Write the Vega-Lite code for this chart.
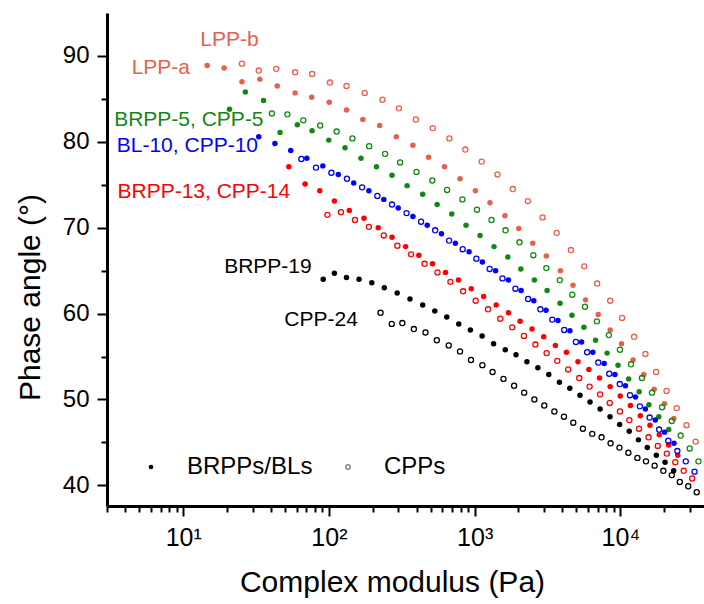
{
"$schema": "https://vega.github.io/schema/vega-lite/v6.json",
"width": 597, "height": 493,
"autosize": {"type": "none"},
"padding": {"left": 107, "top": 13, "right": 0, "bottom": 98},
"background": "white",
"config": {
 "view": {"stroke": null},
 "font": "Liberation Sans",
 "axis": {"domainColor": "black", "domainWidth": 3, "tickColor": "black", "tickWidth": 2, "labelFont": "Liberation Sans", "labelFontSize": 24, "labelColor": "black", "titleFont": "Liberation Sans", "titleFontWeight": "normal", "titleColor": "black", "grid": false, "labelOverlap": false, "labelBound": false, "labelFlush": false}
},
"datasets": {
"pts": [
{"g":"LPP","t":"BRPPs/BLs","x":14.6,"y":88.9},{"g":"LPP","t":"BRPPs/BLs","x":19.1,"y":88.6},{"g":"LPP","t":"BRPPs/BLs","x":25.3,"y":87.0},{"g":"LPP","t":"BRPPs/BLs","x":33.6,"y":87.3},{"g":"LPP","t":"BRPPs/BLs","x":44.2,"y":86.5},{"g":"LPP","t":"BRPPs/BLs","x":58.6,"y":85.7},{"g":"LPP","t":"BRPPs/BLs","x":76.2,"y":85.2},{"g":"LPP","t":"BRPPs/BLs","x":100.5,"y":84.6},{"g":"LPP","t":"BRPPs/BLs","x":132,"y":83.7},{"g":"LPP","t":"BRPPs/BLs","x":171,"y":82.6},{"g":"LPP","t":"BRPPs/BLs","x":223,"y":81.9},{"g":"LPP","t":"BRPPs/BLs","x":290,"y":80.6},{"g":"LPP","t":"BRPPs/BLs","x":377,"y":79.6},{"g":"LPP","t":"BRPPs/BLs","x":483,"y":78.2},{"g":"LPP","t":"BRPPs/BLs","x":621,"y":77.1},{"g":"LPP","t":"BRPPs/BLs","x":794,"y":75.7},{"g":"LPP","t":"BRPPs/BLs","x":1012,"y":74.3},{"g":"LPP","t":"BRPPs/BLs","x":1274,"y":72.9},{"g":"LPP","t":"BRPPs/BLs","x":1614,"y":71.4},{"g":"LPP","t":"BRPPs/BLs","x":2009,"y":69.9},{"g":"LPP","t":"BRPPs/BLs","x":2506,"y":68.2},{"g":"LPP","t":"BRPPs/BLs","x":3105,"y":66.7},{"g":"LPP","t":"BRPPs/BLs","x":3873,"y":65.0},{"g":"LPP","t":"BRPPs/BLs","x":4732,"y":63.3},{"g":"LPP","t":"BRPPs/BLs","x":5768,"y":61.6},{"g":"LPP","t":"BRPPs/BLs","x":7047,"y":59.9},{"g":"LPP","t":"BRPPs/BLs","x":8511,"y":58.1},{"g":"LPP","t":"BRPPs/BLs","x":10186,"y":56.5},{"g":"LPP","t":"BRPPs/BLs","x":12218,"y":54.6},{"g":"LPP","t":"BRPPs/BLs","x":14488,"y":52.9},{"g":"LPP","t":"BRPPs/BLs","x":17061,"y":51.2},{"g":"LPP","t":"BRPPs/BLs","x":20045,"y":49.5},{"g":"LPP","t":"BRPPs/BLs","x":23281,"y":47.8},
{"g":"LPP","t":"CPPs","x":25.3,"y":89.1},{"g":"LPP","t":"CPPs","x":33.0,"y":88.3},{"g":"LPP","t":"CPPs","x":43.5,"y":88.5},{"g":"LPP","t":"CPPs","x":58.6,"y":88.1},{"g":"LPP","t":"CPPs","x":76.7,"y":87.9},{"g":"LPP","t":"CPPs","x":101.6,"y":86.9},{"g":"LPP","t":"CPPs","x":132,"y":86.5},{"g":"LPP","t":"CPPs","x":176,"y":85.7},{"g":"LPP","t":"CPPs","x":233,"y":84.9},{"g":"LPP","t":"CPPs","x":302,"y":83.9},{"g":"LPP","t":"CPPs","x":395,"y":82.6},{"g":"LPP","t":"CPPs","x":516,"y":81.6},{"g":"LPP","t":"CPPs","x":671,"y":80.4},{"g":"LPP","t":"CPPs","x":863,"y":79.1},{"g":"LPP","t":"CPPs","x":1117,"y":77.7},{"g":"LPP","t":"CPPs","x":1435,"y":76.2},{"g":"LPP","t":"CPPs","x":1828,"y":74.5},{"g":"LPP","t":"CPPs","x":2317,"y":73.1},{"g":"LPP","t":"CPPs","x":2924,"y":71.2},{"g":"LPP","t":"CPPs","x":3656,"y":69.4},{"g":"LPP","t":"CPPs","x":4581,"y":67.4},{"g":"LPP","t":"CPPs","x":5649,"y":65.5},{"g":"LPP","t":"CPPs","x":6934,"y":63.5},{"g":"LPP","t":"CPPs","x":8511,"y":61.5},{"g":"LPP","t":"CPPs","x":10280,"y":59.5},{"g":"LPP","t":"CPPs","x":12417,"y":57.3},{"g":"LPP","t":"CPPs","x":14859,"y":55.3},{"g":"LPP","t":"CPPs","x":17579,"y":53.2},{"g":"LPP","t":"CPPs","x":20749,"y":51.0},{"g":"LPP","t":"CPPs","x":24378,"y":49.0},{"g":"LPP","t":"CPPs","x":28445,"y":47.0},{"g":"LPP","t":"CPPs","x":32885,"y":45.1},
{"g":"BRPP-5/CPP-5","t":"BRPPs/BLs","x":20.8,"y":83.8},{"g":"BRPP-5/CPP-5","t":"BRPPs/BLs","x":26.7,"y":85.8},{"g":"BRPP-5/CPP-5","t":"BRPPs/BLs","x":35.6,"y":84.8},{"g":"BRPP-5/CPP-5","t":"BRPPs/BLs","x":46.2,"y":81.1},{"g":"BRPP-5/CPP-5","t":"BRPPs/BLs","x":60.7,"y":82.0},{"g":"BRPP-5/CPP-5","t":"BRPPs/BLs","x":76.6,"y":81.3},{"g":"BRPP-5/CPP-5","t":"BRPPs/BLs","x":99.8,"y":80.2},{"g":"BRPP-5/CPP-5","t":"BRPPs/BLs","x":129,"y":79.3},{"g":"BRPP-5/CPP-5","t":"BRPPs/BLs","x":166,"y":78.1},{"g":"BRPP-5/CPP-5","t":"BRPPs/BLs","x":212,"y":77.1},{"g":"BRPP-5/CPP-5","t":"BRPPs/BLs","x":271,"y":76.1},{"g":"BRPP-5/CPP-5","t":"BRPPs/BLs","x":344,"y":74.9},{"g":"BRPP-5/CPP-5","t":"BRPPs/BLs","x":440,"y":73.9},{"g":"BRPP-5/CPP-5","t":"BRPPs/BLs","x":553,"y":72.7},{"g":"BRPP-5/CPP-5","t":"BRPPs/BLs","x":697,"y":71.6},{"g":"BRPP-5/CPP-5","t":"BRPPs/BLs","x":873,"y":70.3},{"g":"BRPP-5/CPP-5","t":"BRPPs/BLs","x":1089,"y":69.1},{"g":"BRPP-5/CPP-5","t":"BRPPs/BLs","x":1358,"y":67.8},{"g":"BRPP-5/CPP-5","t":"BRPPs/BLs","x":1690,"y":66.6},{"g":"BRPP-5/CPP-5","t":"BRPPs/BLs","x":2075,"y":65.2},{"g":"BRPP-5/CPP-5","t":"BRPPs/BLs","x":2570,"y":63.9},{"g":"BRPP-5/CPP-5","t":"BRPPs/BLs","x":3141,"y":62.7},{"g":"BRPP-5/CPP-5","t":"BRPPs/BLs","x":3855,"y":61.2},{"g":"BRPP-5/CPP-5","t":"BRPPs/BLs","x":4656,"y":59.8},{"g":"BRPP-5/CPP-5","t":"BRPPs/BLs","x":5623,"y":58.4},{"g":"BRPP-5/CPP-5","t":"BRPPs/BLs","x":6761,"y":56.9},{"g":"BRPP-5/CPP-5","t":"BRPPs/BLs","x":8110,"y":55.4},{"g":"BRPP-5/CPP-5","t":"BRPPs/BLs","x":9638,"y":54.0},{"g":"BRPP-5/CPP-5","t":"BRPPs/BLs","x":11402,"y":52.4},{"g":"BRPP-5/CPP-5","t":"BRPPs/BLs","x":13459,"y":50.9},{"g":"BRPP-5/CPP-5","t":"BRPPs/BLs","x":15704,"y":49.4},{"g":"BRPP-5/CPP-5","t":"BRPPs/BLs","x":18365,"y":48.0},{"g":"BRPP-5/CPP-5","t":"BRPPs/BLs","x":21478,"y":46.5},
{"g":"BRPP-5/CPP-5","t":"CPPs","x":40.6,"y":83.3},{"g":"BRPP-5/CPP-5","t":"CPPs","x":51.9,"y":83.2},{"g":"BRPP-5/CPP-5","t":"CPPs","x":66.7,"y":82.5},{"g":"BRPP-5/CPP-5","t":"CPPs","x":87.1,"y":81.9},{"g":"BRPP-5/CPP-5","t":"CPPs","x":113,"y":81.2},{"g":"BRPP-5/CPP-5","t":"CPPs","x":145,"y":80.4},{"g":"BRPP-5/CPP-5","t":"CPPs","x":189,"y":79.5},{"g":"BRPP-5/CPP-5","t":"CPPs","x":243,"y":78.6},{"g":"BRPP-5/CPP-5","t":"CPPs","x":308,"y":77.6},{"g":"BRPP-5/CPP-5","t":"CPPs","x":399,"y":76.5},{"g":"BRPP-5/CPP-5","t":"CPPs","x":512,"y":75.5},{"g":"BRPP-5/CPP-5","t":"CPPs","x":647,"y":74.4},{"g":"BRPP-5/CPP-5","t":"CPPs","x":824,"y":73.3},{"g":"BRPP-5/CPP-5","t":"CPPs","x":1038,"y":72.1},{"g":"BRPP-5/CPP-5","t":"CPPs","x":1306,"y":70.9},{"g":"BRPP-5/CPP-5","t":"CPPs","x":1629,"y":69.7},{"g":"BRPP-5/CPP-5","t":"CPPs","x":2032,"y":68.3},{"g":"BRPP-5/CPP-5","t":"CPPs","x":2529,"y":66.8},{"g":"BRPP-5/CPP-5","t":"CPPs","x":3105,"y":65.3},{"g":"BRPP-5/CPP-5","t":"CPPs","x":3837,"y":63.9},{"g":"BRPP-5/CPP-5","t":"CPPs","x":4677,"y":62.2},{"g":"BRPP-5/CPP-5","t":"CPPs","x":5715,"y":60.8},{"g":"BRPP-5/CPP-5","t":"CPPs","x":6902,"y":59.1},{"g":"BRPP-5/CPP-5","t":"CPPs","x":8337,"y":57.5},{"g":"BRPP-5/CPP-5","t":"CPPs","x":9931,"y":55.8},{"g":"BRPP-5/CPP-5","t":"CPPs","x":11830,"y":54.1},{"g":"BRPP-5/CPP-5","t":"CPPs","x":14060,"y":52.5},{"g":"BRPP-5/CPP-5","t":"CPPs","x":16482,"y":50.8},{"g":"BRPP-5/CPP-5","t":"CPPs","x":19320,"y":49.1},{"g":"BRPP-5/CPP-5","t":"CPPs","x":22542,"y":47.5},{"g":"BRPP-5/CPP-5","t":"CPPs","x":25942,"y":45.8},{"g":"BRPP-5/CPP-5","t":"CPPs","x":29923,"y":44.3},{"g":"BRPP-5/CPP-5","t":"CPPs","x":34356,"y":42.8},
{"g":"BL-10/CPP-10","t":"BRPPs/BLs","x":33.0,"y":80.6},{"g":"BL-10/CPP-10","t":"BRPPs/BLs","x":42.6,"y":79.8},{"g":"BL-10/CPP-10","t":"BRPPs/BLs","x":54.7,"y":79.0},{"g":"BL-10/CPP-10","t":"BRPPs/BLs","x":70.5,"y":78.1},{"g":"BL-10/CPP-10","t":"BRPPs/BLs","x":90.8,"y":77.2},{"g":"BL-10/CPP-10","t":"BRPPs/BLs","x":116,"y":76.2},{"g":"BL-10/CPP-10","t":"BRPPs/BLs","x":148,"y":75.2},{"g":"BL-10/CPP-10","t":"BRPPs/BLs","x":188,"y":74.3},{"g":"BL-10/CPP-10","t":"BRPPs/BLs","x":238,"y":73.3},{"g":"BL-10/CPP-10","t":"BRPPs/BLs","x":299,"y":72.3},{"g":"BL-10/CPP-10","t":"BRPPs/BLs","x":377,"y":71.3},{"g":"BL-10/CPP-10","t":"BRPPs/BLs","x":473,"y":70.3},{"g":"BL-10/CPP-10","t":"BRPPs/BLs","x":592,"y":69.3},{"g":"BL-10/CPP-10","t":"BRPPs/BLs","x":738,"y":68.2},{"g":"BL-10/CPP-10","t":"BRPPs/BLs","x":916,"y":67.2},{"g":"BL-10/CPP-10","t":"BRPPs/BLs","x":1130,"y":66.0},{"g":"BL-10/CPP-10","t":"BRPPs/BLs","x":1393,"y":65.0},{"g":"BL-10/CPP-10","t":"BRPPs/BLs","x":1706,"y":63.9},{"g":"BL-10/CPP-10","t":"BRPPs/BLs","x":2084,"y":62.7},{"g":"BL-10/CPP-10","t":"BRPPs/BLs","x":2547,"y":61.5},{"g":"BL-10/CPP-10","t":"BRPPs/BLs","x":3090,"y":60.4},{"g":"BL-10/CPP-10","t":"BRPPs/BLs","x":3733,"y":59.2},{"g":"BL-10/CPP-10","t":"BRPPs/BLs","x":4508,"y":58.0},{"g":"BL-10/CPP-10","t":"BRPPs/BLs","x":5420,"y":56.7},{"g":"BL-10/CPP-10","t":"BRPPs/BLs","x":6471,"y":55.5},{"g":"BL-10/CPP-10","t":"BRPPs/BLs","x":7745,"y":54.2},{"g":"BL-10/CPP-10","t":"BRPPs/BLs","x":9183,"y":52.9},{"g":"BL-10/CPP-10","t":"BRPPs/BLs","x":10839,"y":51.6},{"g":"BL-10/CPP-10","t":"BRPPs/BLs","x":12706,"y":50.3},{"g":"BL-10/CPP-10","t":"BRPPs/BLs","x":14859,"y":48.9},{"g":"BL-10/CPP-10","t":"BRPPs/BLs","x":17378,"y":47.6},{"g":"BL-10/CPP-10","t":"BRPPs/BLs","x":20091,"y":46.2},{"g":"BL-10/CPP-10","t":"BRPPs/BLs","x":23335,"y":44.9},
{"g":"BL-10/CPP-10","t":"CPPs","x":64.7,"y":78.0},{"g":"BL-10/CPP-10","t":"CPPs","x":81.5,"y":77.0},{"g":"BL-10/CPP-10","t":"CPPs","x":104,"y":76.4},{"g":"BL-10/CPP-10","t":"CPPs","x":133,"y":75.7},{"g":"BL-10/CPP-10","t":"CPPs","x":169,"y":74.7},{"g":"BL-10/CPP-10","t":"CPPs","x":215,"y":73.7},{"g":"BL-10/CPP-10","t":"CPPs","x":271,"y":72.7},{"g":"BL-10/CPP-10","t":"CPPs","x":341,"y":71.7},{"g":"BL-10/CPP-10","t":"CPPs","x":429,"y":70.7},{"g":"BL-10/CPP-10","t":"CPPs","x":536,"y":69.7},{"g":"BL-10/CPP-10","t":"CPPs","x":668,"y":68.5},{"g":"BL-10/CPP-10","t":"CPPs","x":828,"y":67.5},{"g":"BL-10/CPP-10","t":"CPPs","x":1028,"y":66.4},{"g":"BL-10/CPP-10","t":"CPPs","x":1268,"y":65.2},{"g":"BL-10/CPP-10","t":"CPPs","x":1552,"y":64.1},{"g":"BL-10/CPP-10","t":"CPPs","x":1905,"y":62.9},{"g":"BL-10/CPP-10","t":"CPPs","x":2328,"y":61.7},{"g":"BL-10/CPP-10","t":"CPPs","x":2825,"y":60.5},{"g":"BL-10/CPP-10","t":"CPPs","x":3412,"y":59.3},{"g":"BL-10/CPP-10","t":"CPPs","x":4121,"y":58.1},{"g":"BL-10/CPP-10","t":"CPPs","x":4955,"y":56.7},{"g":"BL-10/CPP-10","t":"CPPs","x":5916,"y":55.5},{"g":"BL-10/CPP-10","t":"CPPs","x":7063,"y":54.3},{"g":"BL-10/CPP-10","t":"CPPs","x":8395,"y":53.0},{"g":"BL-10/CPP-10","t":"CPPs","x":9908,"y":51.8},{"g":"BL-10/CPP-10","t":"CPPs","x":11641,"y":50.5},{"g":"BL-10/CPP-10","t":"CPPs","x":13614,"y":49.2},{"g":"BL-10/CPP-10","t":"CPPs","x":15885,"y":47.9},{"g":"BL-10/CPP-10","t":"CPPs","x":18450,"y":46.5},{"g":"BL-10/CPP-10","t":"CPPs","x":21330,"y":45.2},{"g":"BL-10/CPP-10","t":"CPPs","x":24604,"y":44.0},{"g":"BL-10/CPP-10","t":"CPPs","x":28119,"y":42.8},{"g":"BL-10/CPP-10","t":"CPPs","x":32285,"y":41.6},
{"g":"BRPP-13/CPP-14","t":"BRPPs/BLs","x":53.1,"y":77.1},{"g":"BRPP-13/CPP-14","t":"BRPPs/BLs","x":68.6,"y":75.1},{"g":"BRPP-13/CPP-14","t":"BRPPs/BLs","x":86.5,"y":74.3},{"g":"BRPP-13/CPP-14","t":"BRPPs/BLs","x":109,"y":73.1},{"g":"BRPP-13/CPP-14","t":"BRPPs/BLs","x":138,"y":72.0},{"g":"BRPP-13/CPP-14","t":"BRPPs/BLs","x":174,"y":71.1},{"g":"BRPP-13/CPP-14","t":"BRPPs/BLs","x":218,"y":70.0},{"g":"BRPP-13/CPP-14","t":"BRPPs/BLs","x":271,"y":68.9},{"g":"BRPP-13/CPP-14","t":"BRPPs/BLs","x":336,"y":67.8},{"g":"BRPP-13/CPP-14","t":"BRPPs/BLs","x":414,"y":66.8},{"g":"BRPP-13/CPP-14","t":"BRPPs/BLs","x":514,"y":65.8},{"g":"BRPP-13/CPP-14","t":"BRPPs/BLs","x":631,"y":64.8},{"g":"BRPP-13/CPP-14","t":"BRPPs/BLs","x":775,"y":63.9},{"g":"BRPP-13/CPP-14","t":"BRPPs/BLs","x":948,"y":62.9},{"g":"BRPP-13/CPP-14","t":"BRPPs/BLs","x":1153,"y":62.0},{"g":"BRPP-13/CPP-14","t":"BRPPs/BLs","x":1406,"y":61.0},{"g":"BRPP-13/CPP-14","t":"BRPPs/BLs","x":1706,"y":60.1},{"g":"BRPP-13/CPP-14","t":"BRPPs/BLs","x":2051,"y":59.1},{"g":"BRPP-13/CPP-14","t":"BRPPs/BLs","x":2477,"y":58.2},{"g":"BRPP-13/CPP-14","t":"BRPPs/BLs","x":2979,"y":57.3},{"g":"BRPP-13/CPP-14","t":"BRPPs/BLs","x":3581,"y":56.3},{"g":"BRPP-13/CPP-14","t":"BRPPs/BLs","x":4266,"y":55.5},{"g":"BRPP-13/CPP-14","t":"BRPPs/BLs","x":5117,"y":54.4},{"g":"BRPP-13/CPP-14","t":"BRPPs/BLs","x":6081,"y":53.5},{"g":"BRPP-13/CPP-14","t":"BRPPs/BLs","x":7194,"y":52.5},{"g":"BRPP-13/CPP-14","t":"BRPPs/BLs","x":8511,"y":51.5},{"g":"BRPP-13/CPP-14","t":"BRPPs/BLs","x":9977,"y":50.4},{"g":"BRPP-13/CPP-14","t":"BRPPs/BLs","x":11722,"y":49.3},{"g":"BRPP-13/CPP-14","t":"BRPPs/BLs","x":13709,"y":48.1},{"g":"BRPP-13/CPP-14","t":"BRPPs/BLs","x":15959,"y":47.0},{"g":"BRPP-13/CPP-14","t":"BRPPs/BLs","x":18493,"y":45.9},{"g":"BRPP-13/CPP-14","t":"BRPPs/BLs","x":21429,"y":44.7},{"g":"BRPP-13/CPP-14","t":"BRPPs/BLs","x":24774,"y":43.5},
{"g":"BRPP-13/CPP-14","t":"CPPs","x":97.7,"y":71.5},{"g":"BRPP-13/CPP-14","t":"CPPs","x":121,"y":71.8},{"g":"BRPP-13/CPP-14","t":"CPPs","x":151,"y":70.9},{"g":"BRPP-13/CPP-14","t":"CPPs","x":188,"y":70.1},{"g":"BRPP-13/CPP-14","t":"CPPs","x":238,"y":69.1},{"g":"BRPP-13/CPP-14","t":"CPPs","x":295,"y":67.9},{"g":"BRPP-13/CPP-14","t":"CPPs","x":366,"y":66.9},{"g":"BRPP-13/CPP-14","t":"CPPs","x":453,"y":65.8},{"g":"BRPP-13/CPP-14","t":"CPPs","x":556,"y":64.8},{"g":"BRPP-13/CPP-14","t":"CPPs","x":682,"y":63.7},{"g":"BRPP-13/CPP-14","t":"CPPs","x":834,"y":62.6},{"g":"BRPP-13/CPP-14","t":"CPPs","x":1016,"y":61.5},{"g":"BRPP-13/CPP-14","t":"CPPs","x":1236,"y":60.5},{"g":"BRPP-13/CPP-14","t":"CPPs","x":1500,"y":59.4},{"g":"BRPP-13/CPP-14","t":"CPPs","x":1811,"y":58.4},{"g":"BRPP-13/CPP-14","t":"CPPs","x":2178,"y":57.4},{"g":"BRPP-13/CPP-14","t":"CPPs","x":2612,"y":56.4},{"g":"BRPP-13/CPP-14","t":"CPPs","x":3119,"y":55.4},{"g":"BRPP-13/CPP-14","t":"CPPs","x":3690,"y":54.5},{"g":"BRPP-13/CPP-14","t":"CPPs","x":4385,"y":53.5},{"g":"BRPP-13/CPP-14","t":"CPPs","x":5224,"y":52.5},{"g":"BRPP-13/CPP-14","t":"CPPs","x":6152,"y":51.5},{"g":"BRPP-13/CPP-14","t":"CPPs","x":7261,"y":50.6},{"g":"BRPP-13/CPP-14","t":"CPPs","x":8453,"y":49.6},{"g":"BRPP-13/CPP-14","t":"CPPs","x":9931,"y":48.6},{"g":"BRPP-13/CPP-14","t":"CPPs","x":11535,"y":47.6},{"g":"BRPP-13/CPP-14","t":"CPPs","x":13428,"y":46.6},{"g":"BRPP-13/CPP-14","t":"CPPs","x":15596,"y":45.6},{"g":"BRPP-13/CPP-14","t":"CPPs","x":18072,"y":44.6},{"g":"BRPP-13/CPP-14","t":"CPPs","x":20845,"y":43.7},{"g":"BRPP-13/CPP-14","t":"CPPs","x":23823,"y":42.7},{"g":"BRPP-13/CPP-14","t":"CPPs","x":27227,"y":41.7},{"g":"BRPP-13/CPP-14","t":"CPPs","x":31117,"y":40.8},
{"g":"BRPP-19/CPP-24","t":"BRPPs/BLs","x":91.4,"y":64.0},{"g":"BRPP-19/CPP-24","t":"BRPPs/BLs","x":109,"y":64.7},{"g":"BRPP-19/CPP-24","t":"BRPPs/BLs","x":132,"y":64.2},{"g":"BRPP-19/CPP-24","t":"BRPPs/BLs","x":161,"y":64.0},{"g":"BRPP-19/CPP-24","t":"BRPPs/BLs","x":197,"y":63.6},{"g":"BRPP-19/CPP-24","t":"BRPPs/BLs","x":240,"y":63.0},{"g":"BRPP-19/CPP-24","t":"BRPPs/BLs","x":294,"y":62.4},{"g":"BRPP-19/CPP-24","t":"BRPPs/BLs","x":360,"y":61.7},{"g":"BRPP-19/CPP-24","t":"BRPPs/BLs","x":440,"y":61.0},{"g":"BRPP-19/CPP-24","t":"BRPPs/BLs","x":533,"y":60.3},{"g":"BRPP-19/CPP-24","t":"BRPPs/BLs","x":644,"y":59.6},{"g":"BRPP-19/CPP-24","t":"BRPPs/BLs","x":778,"y":58.8},{"g":"BRPP-19/CPP-24","t":"BRPPs/BLs","x":935,"y":58.1},{"g":"BRPP-19/CPP-24","t":"BRPPs/BLs","x":1125,"y":57.4},{"g":"BRPP-19/CPP-24","t":"BRPPs/BLs","x":1349,"y":56.5},{"g":"BRPP-19/CPP-24","t":"BRPPs/BLs","x":1622,"y":55.8},{"g":"BRPP-19/CPP-24","t":"BRPPs/BLs","x":1923,"y":55.2},{"g":"BRPP-19/CPP-24","t":"BRPPs/BLs","x":2286,"y":54.4},{"g":"BRPP-19/CPP-24","t":"BRPPs/BLs","x":2716,"y":53.7},{"g":"BRPP-19/CPP-24","t":"BRPPs/BLs","x":3228,"y":52.9},{"g":"BRPP-19/CPP-24","t":"BRPPs/BLs","x":3819,"y":52.0},{"g":"BRPP-19/CPP-24","t":"BRPPs/BLs","x":4498,"y":51.3},{"g":"BRPP-19/CPP-24","t":"BRPPs/BLs","x":5284,"y":50.5},{"g":"BRPP-19/CPP-24","t":"BRPPs/BLs","x":6194,"y":49.7},{"g":"BRPP-19/CPP-24","t":"BRPPs/BLs","x":7261,"y":48.9},{"g":"BRPP-19/CPP-24","t":"BRPPs/BLs","x":8492,"y":48.0},{"g":"BRPP-19/CPP-24","t":"BRPPs/BLs","x":9886,"y":47.1},{"g":"BRPP-19/CPP-24","t":"BRPPs/BLs","x":11508,"y":46.3},{"g":"BRPP-19/CPP-24","t":"BRPPs/BLs","x":13305,"y":45.3},{"g":"BRPP-19/CPP-24","t":"BRPPs/BLs","x":15311,"y":44.4},{"g":"BRPP-19/CPP-24","t":"BRPPs/BLs","x":17660,"y":43.5},{"g":"BRPP-19/CPP-24","t":"BRPPs/BLs","x":20277,"y":42.7},{"g":"BRPP-19/CPP-24","t":"BRPPs/BLs","x":23227,"y":41.7},
{"g":"BRPP-19/CPP-24","t":"CPPs","x":226,"y":60.1},{"g":"BRPP-19/CPP-24","t":"CPPs","x":270,"y":58.8},{"g":"BRPP-19/CPP-24","t":"CPPs","x":319,"y":58.9},{"g":"BRPP-19/CPP-24","t":"CPPs","x":383,"y":58.2},{"g":"BRPP-19/CPP-24","t":"CPPs","x":460,"y":57.8},{"g":"BRPP-19/CPP-24","t":"CPPs","x":550,"y":56.9},{"g":"BRPP-19/CPP-24","t":"CPPs","x":664,"y":56.3},{"g":"BRPP-19/CPP-24","t":"CPPs","x":794,"y":55.6},{"g":"BRPP-19/CPP-24","t":"CPPs","x":944,"y":54.6},{"g":"BRPP-19/CPP-24","t":"CPPs","x":1130,"y":54.0},{"g":"BRPP-19/CPP-24","t":"CPPs","x":1327,"y":53.2},{"g":"BRPP-19/CPP-24","t":"CPPs","x":1578,"y":52.4},{"g":"BRPP-19/CPP-24","t":"CPPs","x":1866,"y":51.6},{"g":"BRPP-19/CPP-24","t":"CPPs","x":2188,"y":50.8},{"g":"BRPP-19/CPP-24","t":"CPPs","x":2570,"y":50.0},{"g":"BRPP-19/CPP-24","t":"CPPs","x":3006,"y":49.3},{"g":"BRPP-19/CPP-24","t":"CPPs","x":3524,"y":48.6},{"g":"BRPP-19/CPP-24","t":"CPPs","x":4102,"y":48.0},{"g":"BRPP-19/CPP-24","t":"CPPs","x":4753,"y":47.3},{"g":"BRPP-19/CPP-24","t":"CPPs","x":5534,"y":46.6},{"g":"BRPP-19/CPP-24","t":"CPPs","x":6412,"y":46.0},{"g":"BRPP-19/CPP-24","t":"CPPs","x":7430,"y":45.6},{"g":"BRPP-19/CPP-24","t":"CPPs","x":8570,"y":44.9},{"g":"BRPP-19/CPP-24","t":"CPPs","x":9863,"y":44.4},{"g":"BRPP-19/CPP-24","t":"CPPs","x":11350,"y":43.8},{"g":"BRPP-19/CPP-24","t":"CPPs","x":13092,"y":43.2},{"g":"BRPP-19/CPP-24","t":"CPPs","x":14997,"y":42.8},{"g":"BRPP-19/CPP-24","t":"CPPs","x":17179,"y":42.3},{"g":"BRPP-19/CPP-24","t":"CPPs","x":19724,"y":41.7},{"g":"BRPP-19/CPP-24","t":"CPPs","x":22542,"y":41.2},{"g":"BRPP-19/CPP-24","t":"CPPs","x":25586,"y":40.4},{"g":"BRPP-19/CPP-24","t":"CPPs","x":29242,"y":39.9},{"g":"BRPP-19/CPP-24","t":"CPPs","x":33420,"y":39.2}
],
"ann": [
{"label":"LPP-b","g":"LPP","x":13.1,"y":91.9},
{"label":"LPP-a","g":"LPP","x":4.43,"y":88.6},
{"label":"BRPP-5, CPP-5","g":"BRPP-5/CPP-5","x":3.36,"y":82.5},
{"label":"BL-10, CPP-10","g":"BL-10/CPP-10","x":3.5,"y":79.5},
{"label":"BRPP-13, CPP-14","g":"BRPP-13/CPP-14","x":3.54,"y":74.2},
{"label":"BRPP-19","g":"BRPP-19/CPP-24","x":19.1,"y":65.4},
{"label":"CPP-24","g":"BRPP-19/CPP-24","x":49.4,"y":59.2}
]
},
"encoding": {
 "x": {"field": "x", "type": "quantitative",
  "scale": {"type": "log", "domain": [3, 37500], "nice": false},
  "axis": {"title": "Complex modulus (Pa)", "titleFontSize": 30, "titleX": 285, "titleY": 76, "titleBaseline": "middle", "titleAlign": "center",
   "values": [3,4,5,6,7,8,9,10,20,30,40,50,60,70,80,90,100,200,300,400,500,600,700,800,900,1000,2000,3000,4000,5000,6000,7000,8000,9000,10000,20000,30000],
   "labelExpr": "datum.value == 10 ? '10¹' : datum.value == 100 ? '10²' : datum.value == 1000 ? '10³' : datum.value == 10000 ? '10⁴' : ''",
   "tickSize": {"condition": {"test": "datum.value == 10 || datum.value == 100 || datum.value == 1000 || datum.value == 10000", "value": 10}, "value": 6},
   "labelFontSize": 25, "labelPadding": 9}},
 "y": {"field": "y", "type": "quantitative",
  "scale": {"domain": [37.6, 95], "nice": false, "zero": false},
  "axis": {"title": "Phase angle (°)", "titleFontSize": 30, "titleX": -77, "titleY": 284, "titleBaseline": "middle", "titleAlign": "center",
   "values": [40,45,50,55,60,65,70,75,80,85,90],
   "labelExpr": "datum.value % 10 == 0 ? datum.label : ''",
   "tickSize": {"condition": {"test": "datum.value % 10 == 0", "value": 10}, "value": 6},
   "labelPadding": 8}}
},
"resolve": {"scale": {"shape": "independent"}, "legend": {"shape": "independent"}},
"layer": [
 {"data": {"name": "pts"}, "transform": [{"filter": "datum.t === 'BRPPs/BLs'"}],
  "mark": {"type": "point", "filled": true, "size": 30, "opacity": 1},
  "encoding": {
   "color": {"field": "g", "type": "nominal", "legend": null, "scale": {"domain": ["LPP","BRPP-5/CPP-5","BL-10/CPP-10","BRPP-13/CPP-14","BRPP-19/CPP-24"], "range": ["#E8604C","#118811","#0000FF","#FF0000","#000000"]}},
   "shape": {"field": "t", "type": "nominal", "scale": {"range": ["circle"]},
    "legend": {"title": null, "orient": "none", "legendX": 32, "legendY": 442, "direction": "horizontal", "symbolSize": 22, "labelFontSize": 24, "labelFont": "Liberation Sans", "labelColor": "black", "labelOffset": 24, "padding": 0,
     "encode": {"symbols": {"fill": {"value": "black"}, "stroke": {"value": "black"}, "strokeWidth": {"value": 0}, "opacity": {"value": 1}, "fillOpacity": {"value": 1}}}}}
  }},
 {"data": {"name": "pts"}, "transform": [{"filter": "datum.t === 'CPPs'"}],
  "mark": {"type": "point", "filled": false, "size": 26, "strokeWidth": 1.3, "opacity": 1},
  "encoding": {
   "color": {"field": "g", "type": "nominal", "legend": null},
   "shape": {"field": "t", "type": "nominal", "scale": {"range": ["circle"]},
    "legend": {"title": null, "orient": "none", "legendX": 229, "legendY": 442, "direction": "horizontal", "symbolSize": 20, "labelFontSize": 24, "labelFont": "Liberation Sans", "labelColor": "black", "labelOffset": 24, "padding": 0,
     "encode": {"symbols": {"fill": {"value": "transparent"}, "stroke": {"value": "black"}, "strokeWidth": {"value": 1.1}, "opacity": {"value": 1}}}}}
  }},
 {"data": {"name": "ann"},
  "mark": {"type": "text", "align": "left", "baseline": "middle", "fontSize": 21, "font": "Liberation Sans"},
  "encoding": {
   "text": {"field": "label"},
   "color": {"field": "g", "type": "nominal", "legend": null}
  }}
]
}
